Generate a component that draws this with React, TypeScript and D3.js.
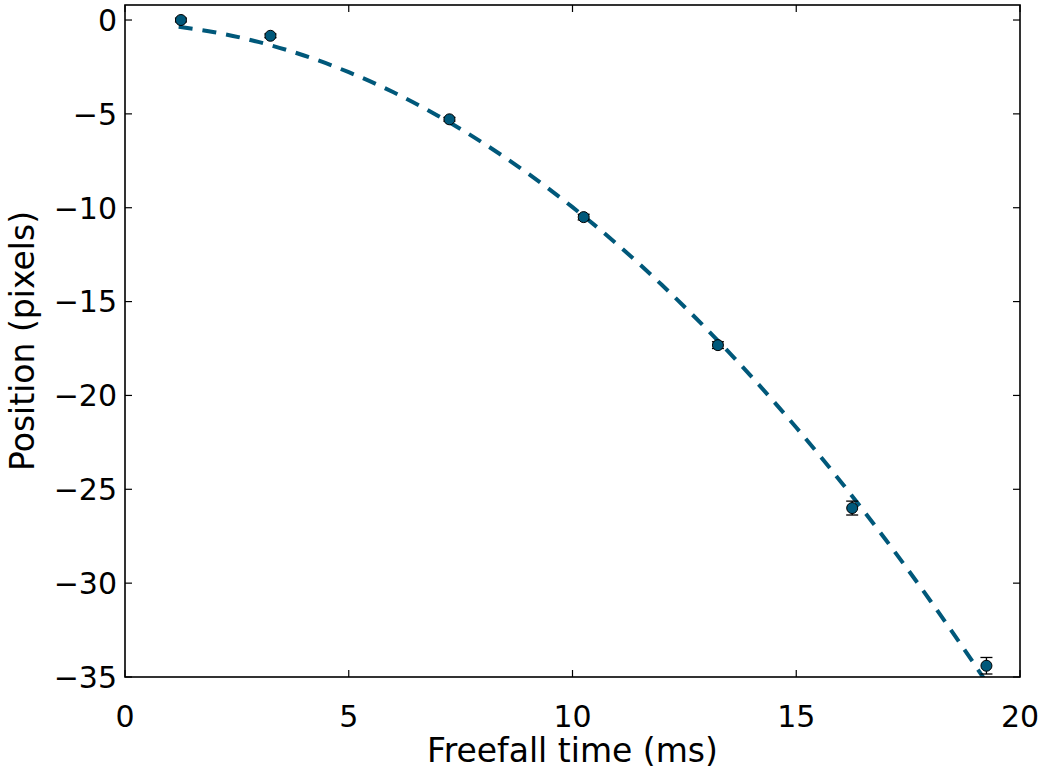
import React from "react";
import * as d3 from "d3";

// Measured data points
const timesMs = [1.25, 3.25, 7.25, 10.25, 13.25, 16.25, 19.25];
const positions = [0.0, -0.84, -5.29, -10.5, -17.32, -26.0, -34.4];
const errors = [0.1, 0.1, 0.1, 0.15, 0.18, 0.37, 0.44];

// Fitted curve
const fitT = [1.2, 2, 3, 4, 5, 6, 7, 8, 9, 10, 11, 12, 13, 14, 15, 16, 17, 18, 19, 19.2];
const fitY = [-0.36, -0.65, -1.18, -1.89, -2.78, -3.85, -5.11, -6.55, -8.17, -9.97, -11.95, -14.12, -16.47, -19.0, -21.71, -24.61, -27.69, -30.95, -34.39, -35.1];

const xTicks = [0, 5, 10, 15, 20];
const yTicks = [0, -5, -10, -15, -20, -25, -30, -35];

const W = 1046;
const H = 771;
const L = 125, R = 1020, T = 5, B = 677;
const COLOR = "#00587a";
const FONT = "DejaVu Sans";

export default function App() {
  const x = d3.scaleLinear().domain([0, 20]).range([L, R]);
  const y = d3.scaleLinear().domain([-35, 0.8]).range([B, T]);
  const line = d3
    .line<number>()
    .x((_, i) => x(fitT[i]))
    .y((d) => y(d))
    .curve(d3.curveMonotoneX);
  const fmt = (v: number) => (v < 0 ? "\u2212" + Math.abs(v) : String(v));
  const tl = 7;
  return (
    <svg
      width={W}
      height={H}
      style={{ position: "absolute", left: 0, top: 0, background: "#fff" }}
      fontFamily={FONT}
    >
      <defs>
        <clipPath id="plot">
          <rect x={L} y={T} width={R - L} height={B - T} />
        </clipPath>
      </defs>
      <rect x={0} y={0} width={W} height={H} fill="#fff" />
      <g clipPath="url(#plot)">
        <path
          d={line(fitY) || ""}
          fill="none"
          stroke={COLOR}
          strokeWidth={4}
          strokeDasharray="14,10"
        />
      </g>
      {timesMs.map((t, i) => {
        const cx = x(t);
        const y1 = y(positions[i] + errors[i]);
        const y2 = y(positions[i] - errors[i]);
        return (
          <g key={"e" + i} stroke="#000" strokeWidth={1.3}>
            <line x1={cx} x2={cx} y1={y1} y2={y2} />
            <line x1={cx - 6} x2={cx + 6} y1={y1} y2={y1} />
            <line x1={cx - 6} x2={cx + 6} y1={y2} y2={y2} />
          </g>
        );
      })}
      {timesMs.map((t, i) => (
        <circle
          key={"p" + i}
          cx={x(t)}
          cy={y(positions[i])}
          r={5.5}
          fill={COLOR}
          stroke="#000"
          strokeWidth={1}
        />
      ))}
      {/* ticks */}
      {xTicks.map((v) => (
        <g key={"xt" + v}>
          <line x1={x(v)} x2={x(v)} y1={B} y2={B - tl} stroke="#000" strokeWidth={1.2} />
          <line x1={x(v)} x2={x(v)} y1={T} y2={T + tl} stroke="#000" strokeWidth={1.2} />
          <text x={x(v)} y={727} textAnchor="middle" fontSize={30} fill="#000">
            {fmt(v)}
          </text>
        </g>
      ))}
      {yTicks.map((v) => (
        <g key={"yt" + v}>
          <line x1={L} x2={L + tl} y1={y(v)} y2={y(v)} stroke="#000" strokeWidth={1.2} />
          <line x1={R} x2={R - tl} y1={y(v)} y2={y(v)} stroke="#000" strokeWidth={1.2} />
          <text x={117} y={y(v)} dy="0.36em" textAnchor="end" fontSize={30} fill="#000">
            {fmt(v)}
          </text>
        </g>
      ))}
      <rect x={L} y={T} width={R - L} height={B - T} fill="none" stroke="#000" strokeWidth={1.6} />
      <text x={(L + R) / 2} y={762} textAnchor="middle" fontSize={33} fill="#000">
        Freefall time (ms)
      </text>
      <text
        transform={`translate(34, ${(T + B) / 2}) rotate(-90)`}
        textAnchor="middle"
        fontSize={33}
        fill="#000"
      >
        Position (pixels)
      </text>
    </svg>
  );
}
